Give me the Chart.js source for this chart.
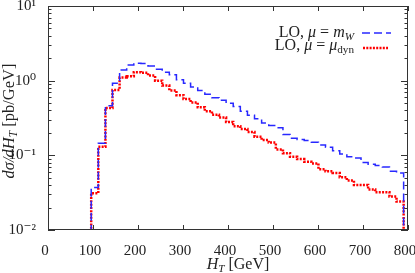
<!DOCTYPE html>
<html>
<head>
<meta charset="utf-8">
<script src="https://cdn.jsdelivr.net/npm/chart.js@4.4.1/dist/chart.umd.min.js"></script>
<style>
html,body{margin:0;padding:0;background:#fff}
#wrap{width:415px;height:273px}
</style>
</head>
<body>
<div id="wrap"><canvas id="c" width="415" height="273"></canvas></div>
<script>

// bin edges of the H_T histogram (GeV)
const binEdges=[96,111.8,127.6,143.3,159.1,174.9,190.7,206.5,222.2,238,253.8,269.6,285.4,301.1,316.9,332.7,348.5,364.3,380,395.8,411.6,427.4,443.2,458.9,474.7,490.5,506.3,522.1,537.8,553.6,569.4,585.2,601,616.7,632.5,648.3,664.1,679.9,695.6,711.4,727.2,743,758.8,774.5,790.3]

// LO, mu = m_W  (pb/GeV)
const loMW=[0.037,0.145,0.46,0.92,1.39,1.62,1.71,1.70,1.57,1.42,1.30,1.20,1.03,0.92,0.82,0.74,0.66,0.59,0.545,0.50,0.45,0.39,0.345,0.31,0.27,0.25,0.235,0.19,0.169,0.163,0.158,0.15,0.138,0.128,0.115,0.104,0.096,0.092,0.080,0.076,0.073,0.070,0.061,0.058]

// LO, mu = mu_dyn  (pb/GeV)
const loDyn=[0.031,0.13,0.43,0.75,1.10,1.15,1.30,1.28,1.17,1.0,0.86,0.74,0.64,0.57,0.51,0.44,0.39,0.35,0.32,0.28,0.245,0.225,0.205,0.178,0.16,0.148,0.12,0.107,0.096,0.089,0.082,0.078,0.065,0.061,0.058,0.051,0.046,0.040,0.040,0.035,0.032,0.032,0.028,0.024]

const xTicks=[0,100,200,300,400,500,600,700,800]
const yTickVals=[0.01,0.1,1,10]
const yTickLabels=['10⁻²','10⁻¹','10⁰','10¹']

const serif='"Liberation Serif", "DejaVu Serif", serif'

// turn bin contents into a step outline that drops to the floor at both ends
function histPoints(vals){
  let pts=[{x:binEdges[0],y:0.001}]
  vals.forEach((v,i)=>pts.push({x:binEdges[i],y:v}))
  pts.push({x:binEdges[binEdges.length-1],y:vals[vals.length-1]})
  pts.push({x:binEdges[binEdges.length-1],y:0.001})
  return pts
}

function line(ctx,x1,y1,x2,y2){
  ctx.beginPath();ctx.moveTo(x1,y1);ctx.lineTo(x2,y2);ctx.stroke()
}

// draw a run of text pieces: [text, style, sub]
function runWidth(ctx,parts,size){
  let w=0
  parts.forEach(p=>{
    let s=p[2]?size*0.7:size
    ctx.font=(p[1]||'')+' '+s+'px '+serif
    w+=ctx.measureText(p[0]).width
  })
  return w
}
function drawRun(ctx,parts,x,y,size){
  parts.forEach(p=>{
    let s=p[2]?size*0.7:size
    ctx.font=(p[1]||'')+' '+s+'px '+serif
    ctx.fillText(p[0],x,p[2]?y+3:y)
    x+=ctx.measureText(p[0]).width
  })
}

const frame={
  id:'frame',
  afterDatasetsDraw(chart){
    const {ctx,chartArea:a,scales:{x,y}}=chart
    ctx.save()
    ctx.strokeStyle='#333'
    ctx.lineWidth=1
    ctx.setLineDash([])
    ctx.strokeRect(a.left+0.5,a.top+0.5,a.right-a.left-1,a.bottom-a.top-1)
    xTicks.forEach(v=>{
      let px=Math.round(x.getPixelForValue(v))+0.5
      line(ctx,px,a.bottom,px,a.bottom-5)
      line(ctx,px,a.top,px,a.top+5)
    })
    for(let d=-2;d<=0;d++){
      for(let k=1;k<=9;k++){
        let py=Math.round(y.getPixelForValue(k*Math.pow(10,d)))+0.5
        let len=k==1?7:3.5
        line(ctx,a.left,py,a.left+len,py)
        line(ctx,a.right,py,a.right-len,py)
      }
    }
    ctx.restore()
  },
  afterDraw(chart){
    const {ctx,chartArea:a}=chart
    ctx.save()
    ctx.fillStyle='#222'
    ctx.textBaseline='alphabetic'
    ctx.textAlign='left'

    // x title
    let xt=[['H','italic'],['T','italic',1],[' [GeV]','']]
    let w=runWidth(ctx,xt,16)
    drawRun(ctx,xt,238-w/2,269,16)

    // y title
    let yt=[['dσ/dH','italic'],['T','italic',1],[' [pb/GeV]','']]
    w=runWidth(ctx,yt,16.5)
    ctx.save()
    ctx.translate(14,121)
    ctx.rotate(-Math.PI/2)
    drawRun(ctx,yt,-w/2,0,16.5)
    ctx.restore()

    // legend
    let l1=[['LO, ',''],['μ','italic'],[' = ',''],['m','italic'],['W','italic',1]]
    let l2=[['LO, ',''],['μ','italic'],[' = ',''],['μ','italic'],['dyn','',1]]
    drawRun(ctx,l1,354-runWidth(ctx,l1,16),37,16)
    drawRun(ctx,l2,354-runWidth(ctx,l2,16),50,16)

    ctx.lineWidth=1.5
    ctx.strokeStyle='rgb(40,40,255)'
    ctx.setLineDash([8,4])
    line(ctx,362,33,391,33)
    ctx.lineWidth=2.5
    ctx.strokeStyle='rgb(255,0,0)'
    ctx.setLineDash([2,1.3])
    line(ctx,363,48,388,48)
    ctx.restore()
  }
}

new Chart(document.getElementById('c'),{
  type:'line',
  data:{
    datasets:[
      {
        label:'LO, μ = m_W',
        data:histPoints(loMW),
        stepped:true,
        borderColor:'rgb(40,40,255)',
        borderWidth:1.5,
        borderDash:[8,4],
        pointRadius:0,
        fill:false
      },
      {
        label:'LO, μ = μ_dyn',
        data:histPoints(loDyn),
        stepped:true,
        borderColor:'rgb(255,0,0)',
        borderWidth:2.5,
        borderDash:[2,1.3],
        pointRadius:0,
        fill:false
      }
    ]
  },
  options:{
    responsive:false,
    animation:false,
    devicePixelRatio:1,
    layout:{padding:{top:6,right:7,left:0,bottom:0}},
    plugins:{legend:{display:false},tooltip:{enabled:false}},
    scales:{
      x:{
        type:'linear',min:0,max:800,
        grid:{display:false},
        border:{display:false},
        ticks:{
          stepSize:100,autoSkip:false,maxRotation:0,padding:4,labelOffset:-3,
          color:'#222',font:{family:serif,size:15}
        },
        afterFit(s){s.height=43;s.paddingLeft=0;s.paddingRight=0}
      },
      y:{
        type:'logarithmic',min:0.01,max:10,
        grid:{display:false},
        border:{display:false},
        ticks:{
          autoSkip:false,padding:4,color:'#222',font:{family:serif,size:15},
          callback:function(v){
            let i=yTickVals.findIndex(t=>Math.abs(Math.log10(v)-Math.log10(t))<1e-6)
            return i<0?'':yTickLabels[i]
          }
        },
        afterFit(s){s.width=48;s.paddingTop=0;s.paddingBottom=0}
      }
    }
  },
  plugins:[frame]
})
</script>
</body>
</html>
